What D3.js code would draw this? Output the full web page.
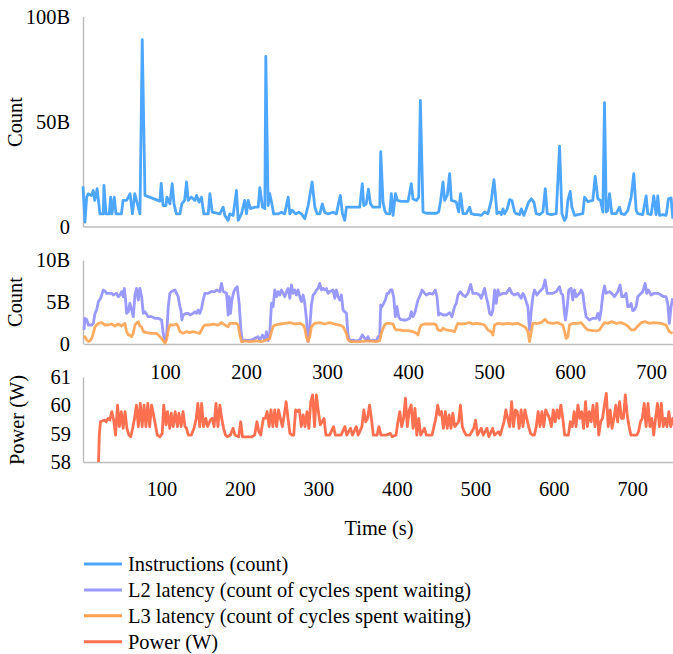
<!DOCTYPE html>
<html>
<head>
<meta charset="utf-8">
<script src="https://cdn.jsdelivr.net/npm/d3@7"></script>
<style>
  body { margin: 0; background: #fff; }
  svg, svg text { font-family: "Times New Roman", Times, "Liberation Serif", "DejaVu Serif", serif; }
</style>
</head>
<body>
<div id="chart"></div>
<script>
// [time (s), billions]
const instructions = [[0,19.1],[2.5,2.1],[4.7,14],[6.8,15.6],[11,14.8],[13,17.2],[15,12.4],[18,18],[21.6,6],[25.9,6],[26.7,19.6],[29.3,6],[33.5,6],[35.2,14],[36.9,6],[39.9,14],[42,6],[49,6],[51,12.4],[55.6,12.4],[60,15.6],[63,6],[66,15.6],[72.6,6],[75.5,89],[79,14.8],[98,12.1],[99.7,20.5],[102,10],[105.7,10],[107,14],[110.8,10.8],[113.7,20.4],[116,10.8],[119,6],[123.5,6],[126,10.8],[129.5,12.4],[132,21.2],[134,12.4],[138,14],[142.6,12.4],[144.8,14.8],[148,11.6],[151,14],[154,6],[159.6,6],[161.7,15.6],[164.7,6.8],[174.5,6],[176.6,7.7],[178.7,9.2],[180.8,5.3],[185,2.9],[187,6],[191.4,5.3],[195.6,17.2],[197.8,2.9],[202,6],[206,12.4],[208.4,6],[210.5,12.4],[213.5,8.5],[219,9.2],[223.3,9.2],[225.4,18.5],[228.8,9.2],[231.8,8.5],[233,81],[236,10],[238,15.6],[240.7,10.8],[243,6],[248.7,6],[253,6.8],[257,6],[261.5,14],[263.6,6],[266.6,7.7],[271,6],[275,6.8],[278.5,6],[282.7,3.7],[287,10],[292,21.2],[295.5,9.2],[298.5,6],[301.8,6],[305,10.8],[308,6.8],[312.4,6],[318.8,6.8],[323,6],[326.5,12.4],[328,14.8],[330.7,6],[333.6,2.9],[335.8,9.2],[352.7,9.2],[356,20.4],[357.8,10],[361,10.8],[363.8,17.8],[366.4,10.8],[369.7,9.2],
  [376,9.2],[378.2,9.2],[379.5,35.6],[382.4,11.6],[384.6,7.6],[386.7,6.1],[390.9,6],[393,15.6],[395.2,5.3],[398.2,15.6],[400.7,12.4],[405.8,12],[414.3,12],[418.5,20.4],[420.6,13.2],[424.9,12.4],[427.9,14],[430,60],[433.4,6.9],[437.7,6.3],[450.4,6.3],[453.3,6.9],[455.9,12.4],[458.8,21.2],[461,12.4],[464.4,15],[467.3,25.2],[469.5,12.4],[473.7,12],[475.8,11.6],[478.8,6.9],[481.3,15.6],[484.3,6.1],[488.5,6.1],[492.8,9.2],[494.9,6.1],[499.2,5.7],[503.4,5.7],[507.7,5.3],[511.9,6.9],[516.1,6.1],[520.4,12.4],[523.8,22.3],[525.5,15.6],[527.6,6.1],[531,6.9],[533.2,5.7],[535.3,8.4],[537.4,6.1],[540.8,8.4],[543.7,12.8],[546.7,12.4],[550.1,6.9],[552.3,6.1],[556.5,5.7],[558.6,8.4],[562,5.3],[565,8.4],[568,11.6],[571.4,13.2],[574.7,11.6],[577.7,6.1],[582,5.7],[586.2,6.9],[589.2,18],[591.7,6.1],[596.8,5.7],[603.2,6.1],[607.4,38.3],[610.4,6.1],[613.8,2.9],[616,4.5],[618,12.4],[621,16.7],[623.1,9.2],[626.5,5.3],[630.7,5.7],[637.1,6.1],[639.2,14],[643.5,11.8],[649.8,12.4],[652.8,23.9],[656.2,13.2],[659.6,12.4],[662.6,6.9],[664.7,59],[666.9,6.9],[668.9,7.6],[671.1,15.6],[674,6.1],[679.6,6.1],[683.8,9.2],[686,6.1],[690.2,5.7],[694.4,7.6],[698.7,14],[702,25.2],[705.1,7.6],[707.1,6.1],[713.5,5.7],[717.8,14.6],[719.8,6.1],[724.2,5.7],[727.5,14.6],[730.5,5.7],[732.6,14.6],[734.8,5.3],[739,5.7],[743.3,5.3],[746.2,13.2],[749.6,13.6],[751.7,3.7]];

// [time (s), billions of cycles]
const l2Latency = [[0,1.67],[1.2,3.06],[3.3,2.9],[5.3,2.26],[9.5,2.26],[11.5,2.46],[13.6,3.65],[15.6,4.05],[17.7,5.04],[20.5,5.44],[23.8,6.43],[25.9,6.3],[28,6.03],[34.1,6.03],[36.2,5.83],[40.3,6.03],[42.3,5.63],[44.4,5.83],[46.4,6.24],[48.5,5.63],[49.7,6.62],[51.4,5.24],[52.6,3.65],[54.7,3.85],[56.7,4.84],[58.8,4.05],[60.8,3.25],[62.9,5.83],[64.9,6.62],[67,5.24],[69,6.62],[71.1,5.63],[73.2,3.65],[75.2,3.85],[79.3,3.25],[83.4,3.25],[87.5,3.06],[91.7,3.06],[95.8,2.86],[97.8,1.27],[99.9,0.28],[101.9,0.87],[104,4.44],[106,6.03],[108.1,6.24],[112.2,6.43],[114.3,6.03],[116.3,5.63],[118.4,4.44],[119.6,4.05],[120.8,2.86],[122.5,3.45],[125.8,3.65],[128.6,3.65],[130.7,3.45],[134.8,3.65],[136.9,3.85],[138.9,3.65],[141,4.05],[143,3.65],[145.1,4.24],[147.1,5.24],[149.2,6.03],[153.3,6.03],[157.4,6.24],[161.5,6.24],[163.6,6.43],[167.7,6.24],[169.7,7.22],[171.8,6.24],[175.9,6.03],[178,3.45],[179.2,5.63],[180.8,3.65],[182.5,5.24],[184.9,6.24],[187,6.62],[189.1,6.82],[191.5,4.84],[193.6,1.67],[195.6,0.28],[198.5,0.48],[202.6,0.4],[206.7,0.48],[210.8,0.67],[215,0.87],[217,0.4],[220.3,1.07],[223.2,0.48],[225.2,1.47],[227.3,0.4],[229.3,1.27],[231.4,4.84],[233.4,4.44],[235.5,6.43],[237.6,5.63],[239.6,6.24],[241.7,5.83],[243.7,6.43],[245.8,6.03],[247.8,5.63],[249.9,6.24],[252,6.62],[254,5.44],[256.1,7.02],[258.1,6.03],[260.2,6.43],[262.2,5.83],[264.3,6.43],[266.3,5.63],[268.4,5.04],[270.4,5.83],[272.5,4.84],[274.5,3.06],[276.6,0.28],[278.7,2.06],[280.7,4.64],[282.8,5.83],[284.8,6.03],[286.9,6.43],[288.9,6.62],[291,7.22],[293,6.43],[295.1,6.62],[297.2,6.43],[299.2,6.62],[301.3,6.03],[303.3,6.24],[307.4,6.43],[309.5,5.44],[311.5,6.43],[313.6,5.63],[315.6,5.24],[317.7,5.83],[319.8,4.05],[321.8,3.85],[323.9,3.65],[325.9,1.07],[328,0.36],[332.1,0.48],[336.2,0.36],[340.3,0.48],[343.6,1.07],[346.5,0.67],[348.5,0.48],[350.6,0.87],[352.6,0.36],[356.8,0.48],[360.9,0.36],[362.9,0.87],
  [365,0.87],[366.2,4.64],[367.8,4.44],[369.9,4.84],[372,5.24],[374,6.03],[376.1,6.03],[378.1,6.43],[380.2,6.43],[382.2,5.63],[384.3,3.25],[386.3,4.44],[388.4,3.25],[390.4,2.93],[393.7,2.86],[397.8,2.86],[402,3.06],[404,3.85],[406.1,3.25],[408.1,3.65],[410.2,4.44],[412.2,5.24],[415.1,5.83],[417.2,6.43],[420.5,6.03],[422.5,5.83],[426.6,6.03],[430.7,5.95],[433.6,6.43],[435.7,5.63],[437.7,3.45],[439.8,3.65],[443.1,3.45],[447.2,3.45],[451.3,3.73],[454.2,3.25],[457.4,4.44],[459.5,4.84],[461.6,5.83],[464.4,6.23],[467.7,5.83],[470.6,5.63],[473.9,6.03],[477.2,7.1],[480,6.03],[484.2,6.03],[488.3,5.83],[490.3,5.44],[492.4,6.03],[494.4,6.63],[496.5,5.63],[498.5,4.84],[500.6,3.65],[502.7,3.45],[504.7,4.05],[506.8,6.43],[508.8,4.84],[510.9,6.43],[512.9,5.83],[517,6.03],[521.1,6.03],[525.3,6.63],[528.1,6.03],[531.4,5.83],[535.5,6.03],[539.6,5.44],[541.7,6.03],[543.8,5.63],[545.8,5.04],[547.9,4.44],[549.9,1.67],[552,3.85],[554,5.63],[556.1,6.43],[559,5.83],[562.2,6.23],[566.4,6.63],[569.2,7.62],[571.7,6.03],[574.6,6.03],[578.7,6.03],[582.8,6.23],[586.9,6.82],[589,6.03],[591,5.83],[593.1,3.65],[594.3,2.86],[596,4.05],[598.4,6.43],[601.3,6.63],[603.3,5.24],[605.4,6.43],[607.5,5.63],[609.5,5.83],[611.6,6.03],[613.6,6.43],[615.7,6.03],[617.7,4.44],[619.8,3.25],[623.9,2.86],[628,3.06],[632.1,3.06],[634.2,3.65],[636.2,2.86],[638.3,4.05],[640.3,5.83],[642.4,6.9],[644.4,6.03],[648.6,6.23],[651.4,6.03],[654.7,5.63],[658.8,6.23],[661.7,7.02],[663.8,5.63],[666.2,5.63],[669.1,6.03],[671.2,4.44],[673.2,4.44],[675.3,4.84],[677.3,3.96],[679.4,4.05],[681.4,4.44],[683.5,5.63],[685.5,5.83],[689.7,6.23],[692.5,7.22],[694.6,6.03],[696.6,6.43],[699.9,5.83],[704,6.03],[708.2,6.03],[712.3,5.83],[715.5,5.63],[718.4,5.63],[720.5,4.84],[722.5,2.46],[724.6,4.44],[726.6,5.44]];

const l3Latency = [[0,0.67],[1.2,0.87],[3.3,0.48],[5.3,0.28],[7.4,0.4],[9.5,0.67],[11.5,1.27],[13.6,2.06],[15.6,2.26],[17.7,2.46],[21.8,2.54],[25.9,2.26],[30,2.26],[34.1,2.38],[38.2,2.14],[42.3,2.38],[46.4,2.14],[50.5,2.46],[52.6,1.47],[54.7,1.07],[56.7,1.07],[58.8,0.87],[60.8,1.27],[62.9,2.26],[64.9,2.46],[67,2.66],[69,2.14],[71.1,2.06],[73.2,1.47],[77.3,1.35],[83.4,1.27],[89.6,1.27],[93.7,0.87],[97.8,0.4],[99.9,0.08],[101.9,0.48],[104,1.67],[106,2.26],[110.1,2.26],[114.3,2.38],[116.3,2.06],[118.4,1.47],[122.5,1.27],[126.6,1.47],[130.7,1.35],[134.8,1.47],[138.9,1.35],[143,1.27],[147.1,2.06],[149.2,2.26],[153.3,2.26],[159.5,2.38],[165.6,2.26],[169.7,2.54],[173.9,2.26],[178,2.06],[180,2.46],[184.1,2.46],[188.2,2.46],[190.3,2.26],[192.4,1.07],[194.4,0.28],[198.5,0.36],[204.7,0.28],[212.9,0.36],[219.1,0.28],[225.2,0.48],[229.3,0.67],[231.4,1.47],[233.4,2.06],[235.5,2.26],[241.7,2.38],[247.8,2.46],[254,2.54],[260.2,2.38],[266.3,2.46],[270.4,2.26],[272.5,1.87],[274.5,0.87],[276.6,0.28],[278.7,0.87],[280.7,2.06],[284.8,2.46],[291,2.54],[297.2,2.38],[303.3,2.54],[309.5,2.38],[315.6,2.26],[319.8,2.06],[323.9,1.27],[325.9,0.48],[330,0.28],[340.3,0.28],[350.6,0.36],[360.9,0.28],
  [365,0.4],[367,1.27],[369.1,1.87],[371.1,2.26],[373.2,2.46],[377.3,2.46],[381.4,2.38],[383.5,1.87],[385.5,1.67],[389.6,1.67],[393.7,1.59],[399.9,1.59],[406.1,1.47],[410.2,1.27],[412.2,1.07],[414.3,1.87],[416.3,2.26],[420.5,2.38],[426.6,2.38],[432.8,2.38],[434.8,2.26],[436.9,1.67],[441,1.59],[443.1,1.87],[447.2,1.67],[453.3,1.59],[457.4,1.47],[459.5,2.06],[461.6,2.46],[465.7,2.38],[471.8,2.46],[476,2.54],[480.1,2.38],[484.2,2.46],[490.3,2.38],[494.4,2.26],[498.5,1.67],[502.7,1.47],[504.7,1.07],[506.8,2.26],[510.9,2.46],[517,2.38],[523.2,2.46],[529.4,2.38],[535.5,2.46],[539.6,2.26],[543.8,2.06],[545.8,1.87],[547.9,1.47],[549.9,0.28],[552,1.47],[554,2.46],[560.2,2.46],[564.3,2.54],[569.2,2.94],[572.5,2.54],[578.7,2.46],[584.9,2.54],[591,2.26],[593.1,1.47],[595.1,0.67],[597.2,0.87],[599.2,2.26],[603.3,2.46],[609.5,2.46],[613.6,2.54],[617.7,2.06],[621.8,1.67],[628,1.59],[632.1,1.55],[636.2,1.67],[640.3,2.26],[642.4,2.54],[646.5,2.46],[651.4,2.66],[656.8,2.46],[662.9,2.54],[667,2.38],[671.2,2.14],[675.3,1.67],[679.4,1.67],[683.5,2.14],[687.6,2.54],[692.5,2.66],[697.9,2.46],[704,2.54],[712.3,2.46],[718.4,2.26],[722.5,1.47],[726.6,1.27]];

// [time (s), watts]
const power = [[19.8,58.0],[20.8,58.95],[22.2,59.42],[24.6,59.45],[27.1,59.48],[29.5,59.42],[31.9,59.54],[34.3,59.48],[36.7,59.78],[39.1,59.48],[41.5,58.95],[44,60.01],[46.4,59.25],[48.8,59.78],[51.2,59.19],[53.6,59.78],[56,59.19],[58.5,58.95],[60.9,58.89],[63.3,59.19],[65.7,59.54],[68.1,60.01],[70.5,59.25],[73,60.07],[75.4,59.25],[77.8,60.01],[80.2,59.25],[82.6,60.07],[85,59.25],[87.4,60.01],[89.9,59.66],[92.3,59.31],[94.7,58.95],[98.1,58.89],[101,59.01],[102.9,60.01],[105.8,59.31],[107.7,59.78],[110.6,59.19],[112.5,59.72],[115,59.25],[117.4,59.78],[120.3,59.25],[122.2,59.72],[125.1,59.25],[127.5,59.78],[130,59.25],[131.9,59.19],[134.3,58.95],[138.1,58.95],[141.5,59.19],[144.4,59.54],[146.4,60.07],[148.8,59.25],[151.2,60.07],[153.6,59.25],[156.5,59.54],[158.9,59.25],[162.3,59.48],[164.7,59.54],[167.1,59.25],[169.5,60.07],[172,59.25],[174.4,60.01],[176.8,59.54],[179.2,59.19],[181.6,58.95],[184,58.89],[187.9,58.95],[191.3,59.19],[193.7,58.95],[198.5,58.89],[201,59.42],[203.3,58.89],[208.2,58.89],[215.4,58.89],[218.8,58.95],[221.7,59.42],[224.1,59.07],[226.5,58.95],[229.9,59.54],[232.3,59.54],[234.7,59.78],[237.2,59.25],[239.6,59.84],[242,59.25],[244.4,59.84],[246.8,59.25],[249.2,59.84],[251.6,59.54],[254.1,59.25],[256.5,59.66],[258.9,60.13],[261.3,59.54],[263.7,59.01],[266.1,58.95],[268.6,58.95],[271,59.84],[273.4,59.78],[275.8,59.84],[278.2,59.25],[280.6,59.66],[283,59.25],[285.5,59.78],[287.9,59.19],[290.3,60.13],[292.7,60.37],[295.1,59.25],[297.5,60.37],[300,59.78],[302.4,59.31],[304.8,59.42],[307.2,59.54],[309.6,58.95],[314.4,58.95],[319.3,59.25],[321.7,58.95],[328.9,58.95],[333.8,59.25],[336.2,58.95],[341,59.19],[343.4,58.95],[348.3,59.25],[350.7,58.95],[355.5,59.25],[357.9,59.84],[360.3,59.42],[362.7,59.54],[365.2,60.01],[367.6,59.54],[370,58.95],[374.8,58.95],[377.2,59.25],[379.7,58.95],[386.9,58.95],[391.7,59.01],[394.1,58.89],[399,58.95],[401.4,59.42],[403.8,59.78],[406.2,59.25],[408.6,59.54],[411,60.25],[413.4,59.25],[415.9,59.84],[418.3,60.01],[420.7,59.19],[423.1,59.89],[425.5,58.95],[427.9,59.54],[430.4,58.95],[435.2,59.19],[437.6,58.95],[444.9,58.95],[447.3,59.25],[449.7,59.54],[452.1,60.01],[454.5,59.66],[456.9,59.78],[459.3,59.19],[461.8,59.78],[464.2,59.19],[466.6,59.66],[469,59.19],[471.4,59.72],[473.8,59.25],[478.7,59.42],[481.1,60.01],[483.5,59.25],[485.9,59.07],[488.3,58.95],[493.1,58.95],[498,59.19],[500.4,59.48],[502.8,58.95],[507.6,59.19],[510.1,58.95],[514.9,59.19],[517.3,58.89],[522.1,59.19],[524.5,58.95],[529.4,59.07],[531.8,58.95],[534.2,59.19],[536.6,59.42],[539,59.84],[541.4,59.54],[543.9,59.25],[546.3,60.13],[548.7,59.25],[551.1,59.84],[553.5,59.78],[555.9,59.19],[558.4,59.84],[560.8,59.25],[563.2,59.84],[565.6,59.54],[568,59.25],[570.4,59.01],[572.8,58.95],[575.3,58.95],[577.7,59.25],[580.1,59.78],[582.5,59.25],[584.9,59.78],[587.3,59.25],[589.7,59.84],[594.6,59.54],[597,59.25],[599.4,59.84],[601.8,59.42],[604.2,59.84],[606.7,59.54],[609.1,60.01],[611.5,59.54],[613.9,58.95],[618.7,58.95],[621.1,59.42],[623.6,59.25],[626,59.78],[628.4,59.25],[630.8,60.01],[633.2,59.54],[635.6,59.78],[638.1,59.19],[640.5,60.13],[642.9,59.25],[645.3,59.78],[647.7,59.42],[650.1,60.01],[652.5,59.25],[655,60.07],[657.4,58.95],[659.8,59.42],[662.2,59.54],[664.6,60.01],[667,60.42],[669.4,59.25],[671.9,59.84],[674.3,59.19],[676.7,59.54],[679.1,60.01],[681.5,59.42],[683.9,60.13],[686.4,59.54],[688.8,59.54],[691.2,60.37],[693.6,59.66],[696,59.25],[698.4,58.95],[703.2,58.95],[705.7,58.95],[708.1,59.07],[710.5,59.42],[712.9,59.54],[715.3,60.07],[717.7,59.25],[720.2,60.07],[722.6,59.25],[725,59.54],[727.4,58.95],[729.8,59.54],[732.2,60.07],[734.6,59.25],[737.1,60.07],[739.5,59.25],[741.9,59.54],[744.3,59.25],[746.7,59.78],[749.1,59.25],[751.6,59.54],[754,59.25]];

const timeTicks = [100, 200, 300, 400, 500, 600, 700];
const countTicks = [0, 50, 100];
const latencyTicks = [0, 5, 10];
const powerTicks = [58, 59, 60, 61];
const legendLabels = ["Instructions (count)", "L2 latency (count of cycles spent waiting)", "L3 latency (count of cycles spent waiting)", "Power (W)"];
const colors = ["#4da6ff", "#9999ff", "#ffa04d", "#ff7050"];

const FONT = "'Times New Roman', Times, 'Liberation Serif', 'DejaVu Serif', serif";
const FS = 20.4;
const width = 673, height = 654;
const left = 83, right = 673;

const svg = d3.select("#chart").append("svg")
    .attr("width", width)
    .attr("height", height)
    .attr("font-family", FONT);

const x = d3.scaleLinear().domain([0, 752]).range([left, right]);
const x2 = d3.scaleLinear().domain([0, 727]).range([left + 1, right]);

const yCount = d3.scaleLinear().domain([0, 100]).range([226.5, 16.5]);
const yLat = d3.scaleLinear().domain([0, 10]).range([344, 260]);
const yPow = d3.scaleLinear().domain([58, 61]).range([462, 377]);

function styleAxis(g) {
    g.attr("font-family", FONT).attr("font-size", FS);
    g.selectAll("text").attr("fill", "#000");
    g.select(".domain").attr("stroke", "#bdbdbd").attr("stroke-width", 1.5);
}

// y axes
svg.append("g").attr("transform", `translate(${left},0)`)
    .call(d3.axisLeft(yCount).tickValues(countTicks).tickSize(0).tickSizeOuter(0).tickPadding(13)
        .tickFormat(d => d === 0 ? "0" : d + "B"))
    .call(styleAxis);
svg.append("g").attr("transform", `translate(${left},0)`)
    .call(d3.axisLeft(yLat).tickValues(latencyTicks).tickSize(0).tickSizeOuter(0).tickPadding(13)
        .tickFormat(d => d === 0 ? "0" : d + "B"))
    .call(styleAxis);
svg.append("g").attr("transform", `translate(${left},0)`)
    .call(d3.axisLeft(yPow).tickValues(powerTicks).tickSize(0).tickSizeOuter(0).tickPadding(12)
        .tickFormat(d3.format("d")))
    .call(styleAxis);

// x axes
svg.append("g").attr("transform", `translate(0,${yCount(0)})`)
    .call(d3.axisBottom(x).tickValues([]).tickSizeOuter(0))
    .call(styleAxis);
svg.append("g").attr("transform", `translate(0,${yLat(0)})`)
    .call(d3.axisBottom(x2).tickValues(timeTicks).tickSize(0).tickSizeOuter(0).tickPadding(21))
    .call(styleAxis);
svg.append("g").attr("transform", `translate(0,${yPow(58)})`)
    .call(d3.axisBottom(x).tickValues(timeTicks).tickSize(0).tickSizeOuter(0).tickPadding(20))
    .call(styleAxis);

// axis titles
const title = (txt, cx, cy) => svg.append("text")
    .attr("transform", `translate(${cx},${cy}) rotate(-90)`)
    .attr("text-anchor", "middle").attr("dominant-baseline", "central")
    .attr("font-size", FS).text(txt);
title("Count", 15, 122);
title("Count", 15, 302);
title("Power (W)", 17, 420);

svg.append("text").attr("x", 379).attr("y", 528)
    .attr("text-anchor", "middle").attr("dominant-baseline", "central")
    .attr("font-size", FS).text("Time (s)");

// lines
const line = (xs, ys) => d3.line().x(d => xs(d[0])).y(d => ys(d[1]));
const draw = (data, xs, ys, color, op) => svg.append("path")
    .datum(data)
    .attr("fill", "none")
    .attr("stroke", color)
    .attr("stroke-width", 2.8)
    .attr("stroke-linejoin", "round")
    .attr("opacity", op)
    .attr("d", line(xs, ys));

draw(instructions, x, yCount, colors[0], 1);
draw(l2Latency, x2, yLat, colors[1], 1);
draw(l3Latency, x2, yLat, colors[2], 0.88);
draw(power, x, yPow, colors[3], 1);

// legend
const leg = svg.append("g");
legendLabels.forEach((label, i) => {
    const ly = 564 + i * 25.9;
    leg.append("line").attr("x1", 84).attr("x2", 122).attr("y1", ly).attr("y2", ly)
        .attr("stroke", colors[i]).attr("stroke-width", 3);
    leg.append("text").attr("x", 128).attr("y", ly)
        .attr("dominant-baseline", "central").attr("font-size", FS).text(label);
});
</script>
</body>
</html>
